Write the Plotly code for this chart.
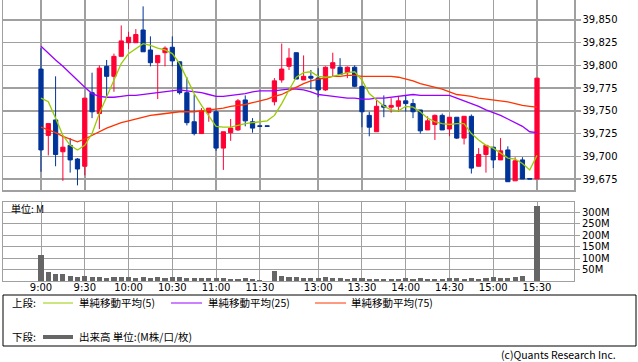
import plotly.graph_objects as go

# ---------------- data ----------------
tick_index = [0, 6, 12, 18, 24, 30, 38, 44, 50, 56, 62, 68]
tick_labels = ["9:00", "9:30", "10:00", "10:30", "11:00", "11:30",
               "13:00", "13:30", "14:00", "14:30", "15:00", "15:30"]

open_ = [39796, 39723, 39740, 39705, 39712, 39697, 39689, 39770, 39747, 39799,
         39788, 39810, 39825, 39825, 39839, 39817, 39803, 39814, 39820, 39804,
         39770, 39738, 39725, 39748, 39749, 39709, 39726, 39729, 39762, 39738,
         39733.5, 39733.5, 39760, 39784, 39799, 39814, 39784, 39788, 39786, 39773,
         39797, 39798, 39792, 39798, 39777, 39745, 39727, 39756, 39754, 39755,
         39761, 39758, 39751, 39729, 39735, 39745, 39730, 39743, 39720, 39744,
         39689, 39702, 39710, 39696, 39707, 39673, 39696, 39675.5, 39675]
high = [39819, 39736, 39788, 39722, 39720, 39698, 39764, 39792, 39800, 39806,
        39813, 39844, 39837, 39840, 39865, 39832, 39811, 39821, 39832, 39804,
        39787, 39768, 39753, 39753, 39751, 39727, 39741, 39763, 39767, 39742,
        39733.5, 39733.5, 39786, 39824, 39819, 39814, 39811, 39795, 39797, 39799,
        39814, 39808, 39799, 39800, 39777, 39749, 39762, 39767, 39764, 39766,
        39767, 39763, 39751, 39744, 39746, 39747, 39743, 39743, 39744, 39746,
        39709, 39712, 39710, 39720, 39711, 39699, 39699, 39675.5, 39786]
low = [39683, 39701, 39689, 39673, 39682, 39668, 39679, 39742, 39730, 39766,
       39771, 39810, 39818, 39825, 39815, 39799, 39763, 39799, 39799, 39768,
       39734, 39723, 39725, 39738, 39706, 39685, 39717, 39728, 39733, 39726,
       39733, 39733, 39756, 39781, 39795, 39785, 39784, 39774, 39765, 39772,
       39788, 39790, 39786, 39776, 39732, 39722, 39727, 39743, 39748, 39749,
       39749, 39742, 39725, 39729, 39718, 39729, 39722, 39719, 39713, 39681,
       39689, 39682, 39687, 39696, 39672, 39673, 39675, 39675, 39675]
close = [39707, 39736, 39702, 39710, 39696, 39686, 39764, 39749, 39797, 39788,
         39810, 39827, 39831, 39834, 39815, 39803, 39811, 39819, 39805, 39770,
         39737, 39725, 39750, 39753, 39709, 39727, 39731, 39761, 39739, 39731,
         39733, 39733, 39783, 39796, 39808, 39785, 39788, 39786, 39773, 39798,
         39803, 39790, 39798, 39777, 39749, 39732, 39755, 39754, 39756, 39761,
         39758, 39749, 39728, 39739, 39745, 39729, 39743, 39720, 39744, 39687,
         39702, 39712, 39696, 39706, 39672, 39695, 39675, 39675, 39786]

ma5 = [39764, 39760, 39742, 39723, 39712, 39707, 39712, 39725, 39747, 39766,
       39784, 39802, 39813, 39819, 39824, 39822, 39819, 39817, 39813, 39802,
       39785, 39769, 39756, 39745, 39733, 39732, 39732, 39734, 39736, 39737,
       39738, 39739, 39745, 39758, 39773, 39787, 39792, 39793, 39788, 39787,
       39788, 39790, 39792, 39793, 39784, 39769, 39762, 39755, 39751, 39750,
       39755, 39754, 39749, 39742, 39738, 39736, 39735, 39736, 39736, 39725,
       39718, 39712, 39709, 39703, 39698, 39697, 39692, 39685, 39701]
ma25 = [39821, 39813, 39806, 39799, 39791, 39783, 39776, 39769, 39766, 39765,
        39765, 39766, 39767, 39767, 39768, 39769, 39770, 39771, 39772, 39773,
        39772, 39771, 39770, 39768, 39766, 39766, 39767, 39768, 39769, 39771,
        39772, 39772, 39772, 39773, 39774, 39774, 39773, 39771, 39768, 39767,
        39766, 39765, 39764, 39764, 39763, 39763, 39764, 39764, 39765, 39766,
        39767, 39768, 39767, 39767, 39767, 39767, 39767, 39764, 39761, 39758,
        39755, 39751, 39748, 39745, 39741, 39737, 39733, 39727, 39726]
ma75 = [39732, 39729, 39726, 39722, 39719, 39716, 39719, 39723, 39727, 39731,
        39734, 39737, 39739, 39741, 39743, 39745, 39746, 39747, 39748, 39749,
        39749, 39749, 39750, 39751, 39752, 39753, 39755, 39756, 39757, 39759,
        39761, 39763, 39766, 39768, 39772, 39776, 39780, 39783, 39785, 39786,
        39788, 39788, 39789, 39789, 39788, 39788, 39788, 39788, 39788, 39787,
        39785, 39783, 39780, 39778, 39776, 39774, 39771, 39768, 39767, 39766,
        39764, 39763, 39762, 39761, 39760, 39758, 39756, 39755, 39754]

volume_m = [115, 40, 32, 32, 23, 19, 23, 18, 18, 13,
            18, 18, 18, 13, 18, 13, 18, 13, 18, 18,
            13, 13, 13, 13, 13, 13, 9, 9, 13, 9,
            3, 0, 44, 23, 16, 16, 12, 12, 12, 19,
            12, 12, 9, 12, 12, 9, 9, 9, 9, 9,
            12, 9, 12, 9, 9, 9, 12, 12, 9, 12,
            9, 12, 17, 12, 12, 17, 22, 0, 329]

price_ticks = [39675, 39700, 39725, 39750, 39775, 39800, 39825, 39850]
volume_ticks = [50, 100, 150, 200, 250, 300]
volume_tick_labels = ["50M", "100M", "150M", "200M", "250M", "300M"]

x = list(range(len(close)))

# ---------------- styling / layout helpers ----------------
W, H = 638, 362
PL, PR, PT, PB = 3, 574, 0, 281


def px(v):
    return (v - PL) / (PR - PL)


def py(v):
    return (PB - v) / (PB - PT)


GRID = "#A0A0A0"
UP = "#FF0033"
DOWN = "#003399"
JP = "Noto Sans CJK JP"
NUM = "DejaVu Sans"

fig = go.Figure()

fig.add_trace(go.Candlestick(
    x=x, open=open_, high=high, low=low, close=close,
    increasing=dict(line=dict(color=UP, width=1), fillcolor=UP),
    decreasing=dict(line=dict(color=DOWN, width=1), fillcolor=DOWN),
    whiskerwidth=0, xaxis="x", yaxis="y", showlegend=False, hoverinfo="skip"))

for vals, col in [(ma25, "#9900FF"), (ma75, "#FF3300"), (ma5, "#99CC00")]:
    fig.add_trace(go.Scatter(x=x, y=vals, mode="lines",
                             line=dict(color=col, width=1.3),
                             xaxis="x", yaxis="y", showlegend=False,
                             hoverinfo="skip"))

fig.add_trace(go.Bar(x=x, y=volume_m, marker=dict(color="#666666", line=dict(width=0)),
                     width=0.7, xaxis="x2", yaxis="y2", showlegend=False,
                     hoverinfo="skip"))

xr = [-5.21, 73.07]
top_dom = [py(190), 1.0]
vol_dom = [0.0, py(201.7)]

fig.update_layout(
    width=W, height=H,
    margin=dict(l=PL, r=W - PR, t=PT, b=H - PB, pad=0),
    paper_bgcolor="white", plot_bgcolor="white",
    boxgap=0.42, boxgroupgap=0,
    bargap=0,
    font=dict(family=NUM, size=10, color="#000000"),
    xaxis=dict(domain=[0, 1], anchor="y", range=xr, tickvals=tick_index,
               showticklabels=False, showgrid=True, gridcolor=GRID, gridwidth=1.5,
               zeroline=False, showline=True, linecolor=GRID, linewidth=1.5,
               rangeslider=dict(visible=False), ticks=""),
    yaxis=dict(domain=top_dom, anchor="x", side="right", range=[39662.9, 39872],
               tickvals=price_ticks, tickformat=",d", showgrid=True,
               gridcolor=GRID, gridwidth=1.5, zeroline=False, showline=True,
               linecolor=GRID, linewidth=1.5, mirror=True, ticks="outside",
               ticklen=5, tickcolor=GRID, tickwidth=1.5,
               tickfont=dict(family=NUM, size=10, color="#000000")),
    xaxis2=dict(domain=[0, 1], anchor="y2", range=xr, tickvals=tick_index,
                ticktext=tick_labels, matches="x", showgrid=True, gridcolor=GRID,
                gridwidth=1, zeroline=False, showline=True, linecolor=GRID,
                linewidth=1, mirror=True, ticks="", ticklabelstandoff=-3,
                tickfont=dict(family=NUM, size=10, color="#000000")),
    yaxis2=dict(domain=vol_dom, anchor="x2", side="right", range=[0, 347],
                tickvals=volume_ticks, ticktext=volume_tick_labels, showgrid=True,
                gridcolor=GRID, gridwidth=1, zeroline=False, showline=True,
                linecolor=GRID, linewidth=1, mirror=True, ticks="outside",
                ticklen=5, tickcolor=GRID, tickwidth=1,
                tickfont=dict(family=NUM, size=10, color="#000000")),
)

shapes = [
    dict(type="rect", xref="paper", yref="paper", x0=px(3), x1=px(636),
         y0=py(295), y1=py(346), line=dict(color="#000000", width=1)),
    dict(type="line", xref="paper", yref="paper", x0=px(43), x1=px(73),
         y0=py(303), y1=py(303), line=dict(color="#99CC00", width=1)),
    dict(type="line", xref="paper", yref="paper", x0=px(171), x1=px(202),
         y0=py(303), y1=py(303), line=dict(color="#9900FF", width=1)),
    dict(type="line", xref="paper", yref="paper", x0=px(315), x1=px(346),
         y0=py(303), y1=py(303), line=dict(color="#FF3300", width=1)),
    dict(type="line", xref="paper", yref="paper", x0=px(43), x1=px(73),
         y0=py(337), y1=py(337), line=dict(color="#666666", width=4)),
]
fig.update_layout(shapes=shapes)


def label(text, x0, y0, size=10.5, anchor="left", family=JP):
    return dict(text=text, xref="paper", yref="paper", x=px(x0), y=py(y0),
                xanchor=anchor, yanchor="middle", showarrow=False,
                font=dict(family=family, size=size, color="#000000"))


fig.update_layout(annotations=[
    label("単位: M", 9, 209, size=10),
    label("上段:", 10, 302),
    label("単純移動平均(5)", 77, 302),
    label("単純移動平均(25)", 206, 302),
    label("単純移動平均(75)", 349, 302),
    label("下段:", 10, 336),
    label("出来高 単位:(M株/口/枚)", 77, 336),
    label("(c)Quants Research Inc.", 618, 354.5, size=10.5, anchor="right"),
])

fig.write_html("out.html",
               config={"displayModeBar": False, "staticPlot": True},
               post_script="document.body.style.margin='0';"
                           "document.body.style.overflow='hidden';")
